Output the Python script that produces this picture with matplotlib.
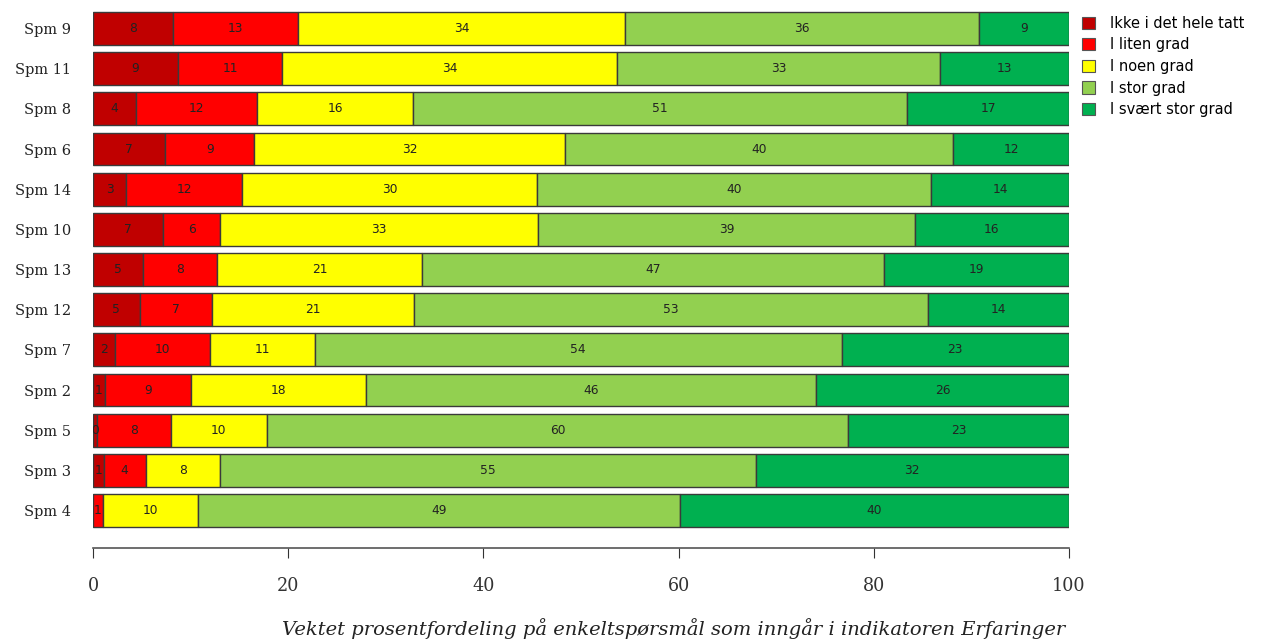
import matplotlib
matplotlib.use("Agg")
import matplotlib.pyplot as plt
import numpy as np

questions = ["Spm 9", "Spm 11", "Spm 8", "Spm 6", "Spm 14", "Spm 10", "Spm 13",
             "Spm 12", "Spm 7", "Spm 2", "Spm 5", "Spm 3", "Spm 4"]
categories = ["Ikke i det hele tatt", "I liten grad", "I noen grad", "I stor grad", "I svært stor grad"]
ikke = [8.2, 8.7, 4.4, 7.4, 3.4, 7.2, 5.1, 4.8, 2.3, 1.2, 0.4, 1.1, 0.0]
liten = [12.8, 10.7, 12.4, 9.1, 11.9, 5.8, 7.6, 7.4, 9.7, 8.8, 7.6, 4.3, 1.0]
noen = [33.5, 34.3, 16.0, 31.9, 30.2, 32.6, 21.0, 20.7, 10.7, 18.0, 9.8, 7.6, 9.8]
stor = [36.3, 33.1, 50.6, 39.7, 40.4, 38.6, 47.3, 52.7, 54.0, 46.1, 59.6, 54.9, 49.3]
svaert = [9.2, 13.2, 16.6, 11.9, 14.1, 15.8, 19.0, 14.4, 23.3, 25.9, 22.6, 32.1, 39.9]
series = [ikke, liten, noen, stor, svaert]
colors = ["#C00000", "#FF0000", "#FFFF00", "#92D050", "#00B050"]

W, H = 1262, 643
fig = plt.figure(figsize=(W / 100, H / 100), dpi=100)
ax = fig.add_axes([93 / W, (H - 548) / H, 976 / W, (548 - 5) / H])

n = len(questions)
ypos = np.arange(n)[::-1]
left = np.zeros(n)
handles = []
for vals, col, lab in zip(series, colors, categories):
    vals = np.array(vals)
    b = ax.barh(ypos, vals, left=left, height=0.82, color=col,
                edgecolor="#3a3a3a", linewidth=1.0, label=lab)
    handles.append(b)
    for y, l, v in zip(ypos, left, vals):
        if v > 0.2:
            ax.text(l + v / 2, y, f"{int(round(v))}", ha="center", va="center",
                    fontsize=8.8, color="#222222", clip_on=True)
    left += vals

ax.set_xlim(0, 100)
ax.set_ylim(-0.933, n - 1 + 0.585)
ax.set_yticks(ypos)
ax.set_yticklabels(questions, family="DejaVu Serif", fontsize=10.5, color="#222222")
ax.tick_params(axis="y", length=0, pad=16)
ax.set_xticks([0, 20, 40, 60, 80, 100])
ax.tick_params(axis="x", length=7, width=0.8, color="#333333", pad=14,
               labelsize=14)
for t in ax.get_xticklabels():
    t.set_family("DejaVu Serif")
    t.set_fontstretch("condensed")
    t.set_color("#333333")
for s in ["left", "right", "top"]:
    ax.spines[s].set_visible(False)
ax.spines["bottom"].set_bounds(0, 100)
ax.spines["bottom"].set_color("#555555")
ax.spines["bottom"].set_linewidth(1.2)
fig.text(674 / W, 1 - 629 / H,
         "Vektet prosentfordeling på enkeltspørsmål som inngår i indikatoren Erfaringer",
         family="DejaVu Serif", style="italic", fontsize=14, ha="center", va="center",
         color="#222222")

leg = fig.legend(handles=handles, labels=categories, loc="upper left",
                 bbox_to_anchor=(1076 / W, 1 - 10 / H), frameon=False,
                 fontsize=10.5, handlelength=0.9, handleheight=0.9,
                 handletextpad=1.0, labelspacing=0.45, borderaxespad=0)
for hnd in leg.legend_handles:
    hnd.set_edgecolor("#555555")
    hnd.set_linewidth(0.8)

fig.savefig("out.png", dpi=100)
